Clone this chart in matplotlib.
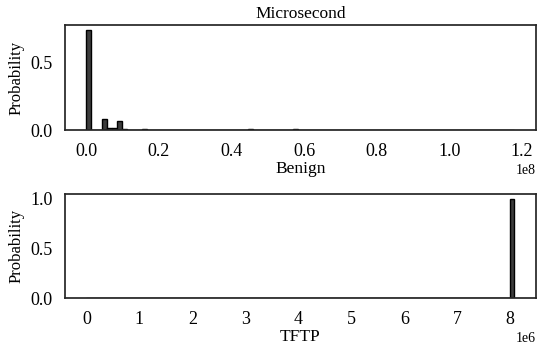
import matplotlib
matplotlib.use('Agg')
import matplotlib.pyplot as plt
import numpy as np

plt.rcParams['font.family'] = ['Liberation Serif', 'DejaVu Serif']
plt.rcParams['font.size'] = 12.5

# ── Benign (microsecond), bins 0 .. 1.18e8 ──
benign_lo, benign_hi, benign_nbins = 0.0, 1.18e8, 85
# (bin index, probability) for non-empty bins
benign_bins = [0, 3, 4, 5, 6, 7, 11, 20, 25, 28, 32, 35, 41, 42, 45]
benign_prob = [0.735, 0.080, 0.012, 0.012, 0.070, 0.010, 0.005, 0.003, 0.003,
               0.002, 0.010, 0.003, 0.011, 0.003, 0.003]

# ── TFTP, bins 0 .. 8.08e6 ──
tftp_lo, tftp_hi, tftp_nbins = 0.0, 8.08e6, 90
tftp_bins = [0, 89]
tftp_prob = [0.004, 0.996]

panels = [
    (benign_lo, benign_hi, benign_nbins, benign_bins, benign_prob, "Benign", [0.0, 0.5]),
    (tftp_lo, tftp_hi, tftp_nbins, tftp_bins, tftp_prob, "TFTP", [0.0, 0.5, 1.0]),
]

fig = plt.figure(figsize=(5.44, 3.47), dpi=100)
ax1 = fig.add_axes([0.1195, 0.625, 0.8655, 0.303])
ax2 = fig.add_axes([0.1195, 0.140, 0.8655, 0.300])

for ax, (lo, hi, nb, idx, prob, xlabel, yt) in zip([ax1, ax2], panels):
    edges = np.linspace(lo, hi, nb + 1)
    centers = (edges[:-1] + edges[1:]) / 2
    weights = np.zeros(nb)
    weights[idx] = prob
    ax.hist(centers, bins=edges, weights=weights, facecolor='#3c3c3c',
            edgecolor='black', linewidth=1.0)
    ax.margins(x=0.05)
    ax.set_ylim(0, max(prob) * 1.05)
    ax.set_yticks(yt)
    ax.set_xlabel(xlabel, labelpad=1)
    ax.set_ylabel("Probability", fontsize=12)
    ax.tick_params(length=0, pad=9, labelsize=13)
    ax.xaxis.get_offset_text().set_fontsize(10)
    for s in ax.spines.values():
        s.set_color('#262626')
        s.set_linewidth(1.25)

ax1.set_xticks(np.arange(0, 1.21e8, 0.2e8))
ax2.set_xticks(np.arange(0, 8.1e6, 1e6))
ax1.set_title("Microsecond", fontsize=12.5, pad=5)

fig.savefig("out.png", dpi=100, facecolor='white')
